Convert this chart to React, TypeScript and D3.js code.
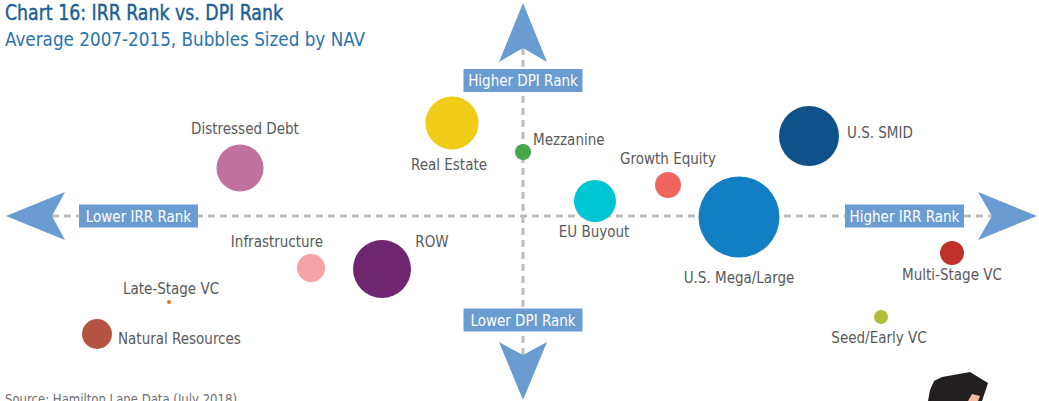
import React, { useEffect, useRef } from "react";
import * as d3 from "d3";

// IRR rank (x) and DPI rank (y) relative to the median, NAV drives bubble size
const sectors = [
  "Distressed Debt",
  "Real Estate",
  "Mezzanine",
  "Growth Equity",
  "EU Buyout",
  "U.S. Mega/Large",
  "U.S. SMID",
  "Multi-Stage VC",
  "Seed/Early VC",
  "Infrastructure",
  "ROW",
  "Late-Stage VC",
  "Natural Resources",
];
const irrRank = [-28.3, -7.1, 0.0, 14.5, 7.2, 21.6, 28.6, 42.9, 35.8, -21.2, -14.1, -35.4, -42.6];
const dpiRank = [4.8, 9.3, 6.4, 3.1, 1.5, -0.1, 8.0, -3.7, -10.1, -5.2, -5.3, -8.6, -11.8];
const nav = [33.7, 42.8, 3.9, 10.3, 26.9, 100, 54.9, 8.8, 3.0, 11.9, 51.3, 0.24, 13.7];
const colors = [
  "#c0729c",
  "#f0cb17",
  "#45a547",
  "#f0655e",
  "#00c5d3",
  "#127ec3",
  "#0e5289",
  "#c0312a",
  "#b2be37",
  "#f4a3a7",
  "#6f266e",
  "#f26b22",
  "#b55343",
];

// where each label sits relative to its bubble
const labelLayout: Record<string, [string, number, number]> = {
  "Distressed Debt": ["middle", 5, -34],
  "Real Estate": ["middle", -3, 47],
  Mezzanine: ["start", 10, -7],
  "Growth Equity": ["middle", 0, -21],
  "EU Buyout": ["middle", -1, 36],
  "U.S. Mega/Large": ["middle", 0, 66],
  "U.S. SMID": ["start", 38, 2],
  "Multi-Stage VC": ["middle", 0, 27],
  "Seed/Early VC": ["middle", -2, 26],
  Infrastructure: ["middle", -34, -21],
  ROW: ["middle", 50, -22],
  "Late-Stage VC": ["middle", 2, -8],
  "Natural Resources": ["start", 21, 10],
};

const title = "Chart 16: IRR Rank vs. DPI Rank";
const subtitle = "Average 2007-2015, Bubbles Sized by NAV";
const source = "Source: Hamilton Lane Data (July 2018)";

const W = 1039;
const H = 401;
const FONT = '"DejaVu Sans Condensed", "Liberation Sans Narrow", "Open Sans", sans-serif';
const ARROW = "#6a9bd1";

const App = () => {
  const svgRef = useRef<SVGSVGElement>(null);

  useEffect(() => {
    const svg = d3.select(svgRef.current);
    svg.selectAll("*").remove();
    svg.attr("width", W).attr("height", H);

    const x = d3.scaleLinear().domain([-50, 50]).range([23, 1023]);
    const y = d3.scaleLinear().domain([-20, 20]).range([416, 16]);
    const r = d3.scaleSqrt().domain([0, 100]).range([0, 40.5]);

    const cx = x(0);
    const cy = y(0);

    // titles
    svg
      .append("text")
      .attr("x", 5)
      .attr("y", 20)
      .attr("font-family", FONT)
      .attr("font-size", 21)
      .attr("fill", "#1c5e98")
      .attr("stroke", "#1c5e98")
      .attr("stroke-width", 0.4)
      .attr("textLength", 278)
      .attr("lengthAdjust", "spacingAndGlyphs")
      .text(title);
    svg
      .append("text")
      .attr("x", 5)
      .attr("y", 46)
      .attr("font-family", FONT)
      .attr("font-size", 20)
      .attr("fill", "#2a74b1")
      .attr("textLength", 360)
      .attr("lengthAdjust", "spacingAndGlyphs")
      .text(subtitle);

    // dashed axes
    const axes = svg.append("g").attr("stroke", "#bdbdbd").attr("stroke-width", 3).attr("stroke-dasharray", "7,5");
    axes.append("line").attr("x1", 52).attr("x2", 992).attr("y1", cy).attr("y2", cy);
    axes.append("line").attr("x1", cx).attr("x2", cx).attr("y1", 48).attr("y2", 355);

    // arrow heads
    const arrows = [
      [[6, cy], [65, cy - 24], [52, cy], [65, cy + 24]],
      [[1037, cy], [978, cy - 24], [992, cy], [978, cy + 24]],
      [[cx, 3], [cx - 24, 62], [cx, 48], [cx + 24, 62]],
      [[cx, 400], [cx - 24, 342], [cx, 355], [cx + 24, 342]],
    ];
    svg
      .append("g")
      .selectAll("path")
      .data(arrows)
      .enter()
      .append("path")
      .attr("d", (d) => "M" + d.map((p) => p.join(",")).join("L") + "Z")
      .attr("fill", ARROW);

    // axis label boxes
    const boxes = [
      { text: "Higher DPI Rank", x: cx, y: 80.5 },
      { text: "Lower DPI Rank", x: cx, y: 320 },
      { text: "Lower IRR Rank", x: 138.5, y: cy },
      { text: "Higher IRR Rank", x: 904.5, y: cy },
    ];
    const bg = svg.append("g").selectAll("g").data(boxes).enter().append("g");
    bg.append("rect")
      .attr("x", (d) => d.x - 59.5)
      .attr("y", (d) => d.y - 11.5)
      .attr("width", 119)
      .attr("height", 23)
      .attr("fill", ARROW);
    bg.append("text")
      .attr("x", (d) => d.x)
      .attr("y", (d) => d.y + 5.5)
      .attr("text-anchor", "middle")
      .attr("font-family", FONT)
      .attr("font-size", 15)
      .attr("fill", "#fff")
      .text((d) => d.text);

    // bubbles
    const pts = sectors.map((s, i) => ({ s, x: irrRank[i], y: dpiRank[i], nav: nav[i], c: colors[i] }));
    svg
      .append("g")
      .selectAll("circle")
      .data(pts)
      .enter()
      .append("circle")
      .attr("cx", (d) => x(d.x))
      .attr("cy", (d) => y(d.y))
      .attr("r", (d) => r(d.nav))
      .attr("fill", (d) => d.c);

    svg
      .append("g")
      .selectAll("text")
      .data(pts)
      .enter()
      .append("text")
      .attr("x", (d) => x(d.x) + labelLayout[d.s][1])
      .attr("y", (d) => y(d.y) + labelLayout[d.s][2])
      .attr("text-anchor", (d) => labelLayout[d.s][0])
      .attr("font-family", FONT)
      .attr("font-size", 15)
      .attr("fill", "#58595b")
      .text((d) => d.s);

    // source note, clipped by the bottom edge as in the original
    svg
      .append("text")
      .attr("x", 5)
      .attr("y", 404)
      .attr("font-family", FONT)
      .attr("font-size", 14)
      .attr("fill", "#6d6e71")
      .attr("textLength", 232)
      .attr("lengthAdjust", "spacingAndGlyphs")
      .text(source);

    // corner illustration fragment
    svg
      .append("path")
      .attr("d", "M930,390 L934,381 L942,377 L970,372 L988,383 L982,401 L928,401 Z")
      .attr("fill", "#231f20");
    svg.append("path").attr("d", "M968,401 L972,394 L980,396 L978,401 Z").attr("fill", "#f7b9a0");
  }, []);

  return <svg ref={svgRef} style={{ position: "absolute", left: 0, top: 0 }}></svg>;
};

export default App;
